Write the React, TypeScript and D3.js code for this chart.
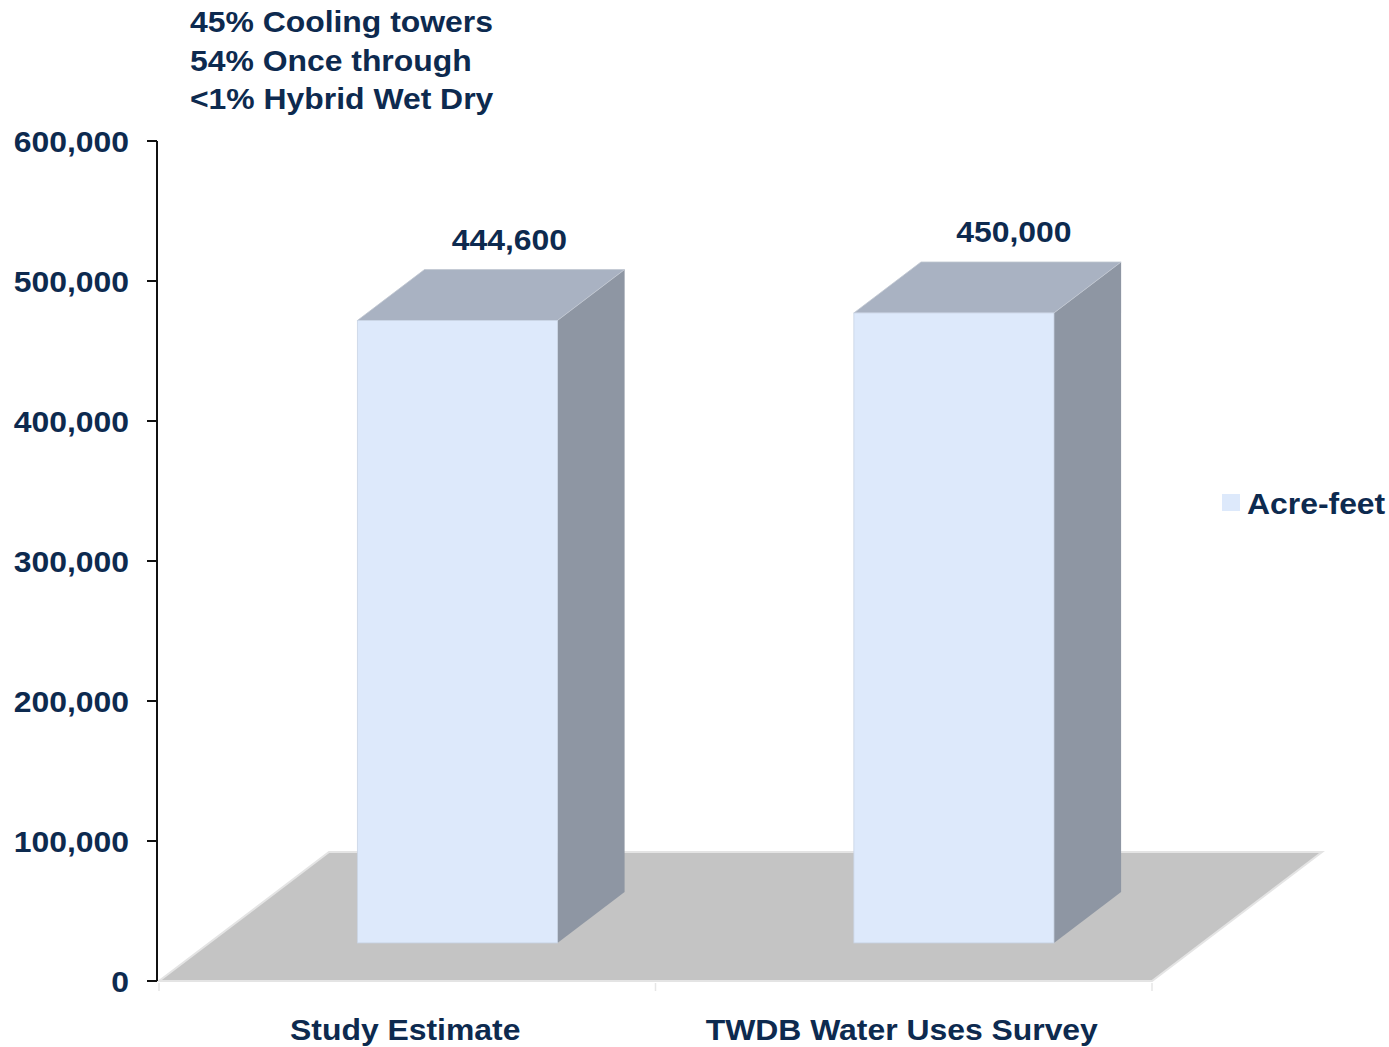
import React from "react";
import * as d3 from "d3";

const categories = ["Study Estimate", "TWDB Water Uses Survey"];
const values = [444600, 450000];
const valueLabels = ["444,600", "450,000"];
const yTicks = [0, 100000, 200000, 300000, 400000, 500000, 600000];
const titleLines = ["45% Cooling towers", "54% Once through", "<1% Hybrid Wet Dry"];
const seriesName = "Acre-feet";

const W = 1389;
const H = 1047;
const NAVY = "#0d2a4f";
const FONT = "'Liberation Sans', Arial, sans-serif";
const SX = 1.1;

export default function App() {
  const y = d3.scaleLinear().domain([0, 600000]).range([981, 141]);
  const x = d3.scaleBand<string>().domain(categories).range([159, 1152]).padding(0);
  const depth = { dx: 170, dy: -129 };
  const f0 = 0.295;
  const f1 = 0.69;
  const barFrac = 0.403;
  const fmt = d3.format(",");

  const floor = [
    [159, 981],
    [1152, 981],
    [1152 + depth.dx, 981 + depth.dy],
    [159 + depth.dx, 981 + depth.dy],
  ];
  const line = d3.line();

  const bars = categories.map((c, i) => {
    const bw = x.bandwidth() * barFrac;
    const cx = (x(c) as number) + x.bandwidth() / 2 + f0 * depth.dx;
    const x0 = cx - bw / 2;
    const x1 = cx + bw / 2;
    const bottom = y(0) + f0 * depth.dy;
    const h = y(0) - y(values[i]);
    const top = bottom - h;
    const ddx = (f1 - f0) * depth.dx;
    const ddy = (f1 - f0) * depth.dy;
    return { c, i, x0, x1, bottom, top, ddx, ddy, cx };
  });

  return (
    <svg
      width={W}
      height={H}
      style={{ position: "absolute", left: 0, top: 0, background: "#fff" }}
      fontFamily={FONT}
      fontWeight="bold"
    >
      {/* title */}
      {titleLines.map((t, i) => (
        <text
          key={t}
          transform={`translate(190,${32 + i * 38.5}) scale(${SX},1)`}
          fontSize={29}
          fill={NAVY}
        >
          {t}
        </text>
      ))}

      {/* floor */}
      <path d={line(floor as [number, number][]) + "Z"} fill="#c4c4c4" stroke="#e4e4e4" strokeWidth={2} />
      {/* category tick marks */}
      {[159, ...categories.map((c) => (x(c) as number) + x.bandwidth())].map((v, i) => (
        <line key={i} x1={v} x2={v} y1={983} y2={991} stroke="#e6e6e6" strokeWidth={1.5} />
      ))}

      {/* bars */}
      {bars.map((b) => (
        <g key={b.c}>
          <path
            d={`M${b.x1},${b.bottom}L${b.x1 + b.ddx},${b.bottom + b.ddy}L${b.x1 + b.ddx},${b.top + b.ddy}L${b.x1},${b.top}Z`}
            fill="#8e96a3"
          />
          <path
            d={`M${b.x0},${b.top}L${b.x0 + b.ddx},${b.top + b.ddy}L${b.x1 + b.ddx},${b.top + b.ddy}L${b.x1},${b.top}Z`}
            fill="#a9b2c2"
            stroke="#c0c6d0"
            strokeWidth={0.8}
          />
          <rect x={b.x0} y={b.top} width={b.x1 - b.x0} height={b.bottom - b.top} fill="#dde9fb" stroke="#c9d4e4" strokeWidth={0.8} />
          <text
            transform={`translate(${b.cx + 52 + b.i * 8},${b.top + b.ddy - 20}) scale(${SX},1)`}
            textAnchor="middle"
            fontSize={29}
            fill={NAVY}
          >
            {valueLabels[b.i]}
          </text>
        </g>
      ))}

      {/* y axis */}
      <line x1={157} x2={157} y1={y(600000)} y2={y(0)} stroke="#111" strokeWidth={2} />
      {yTicks.map((t) => (
        <g key={t}>
          <line x1={147} x2={157} y1={y(t)} y2={y(t)} stroke="#111" strokeWidth={2} />
          <text
            transform={`translate(129,${y(t) + 10.5}) scale(${SX},1)`}
            textAnchor="end"
            fontSize={29}
            fill={NAVY}
          >
            {fmt(t)}
          </text>
        </g>
      ))}

      {/* category labels */}
      {categories.map((c) => (
        <text
          key={c}
          transform={`translate(${(x(c) as number) + x.bandwidth() / 2 - 2},1040) scale(${SX},1)`}
          textAnchor="middle"
          fontSize={29}
          fill={NAVY}
        >
          {c}
        </text>
      ))}

      {/* legend */}
      <rect x={1222} y={494} width={18} height={17} fill="#dde9fb" />
      <text transform={`translate(1247,514) scale(${SX},1)`} fontSize={29} fill={NAVY}>
        {seriesName}
      </text>
    </svg>
  );
}
